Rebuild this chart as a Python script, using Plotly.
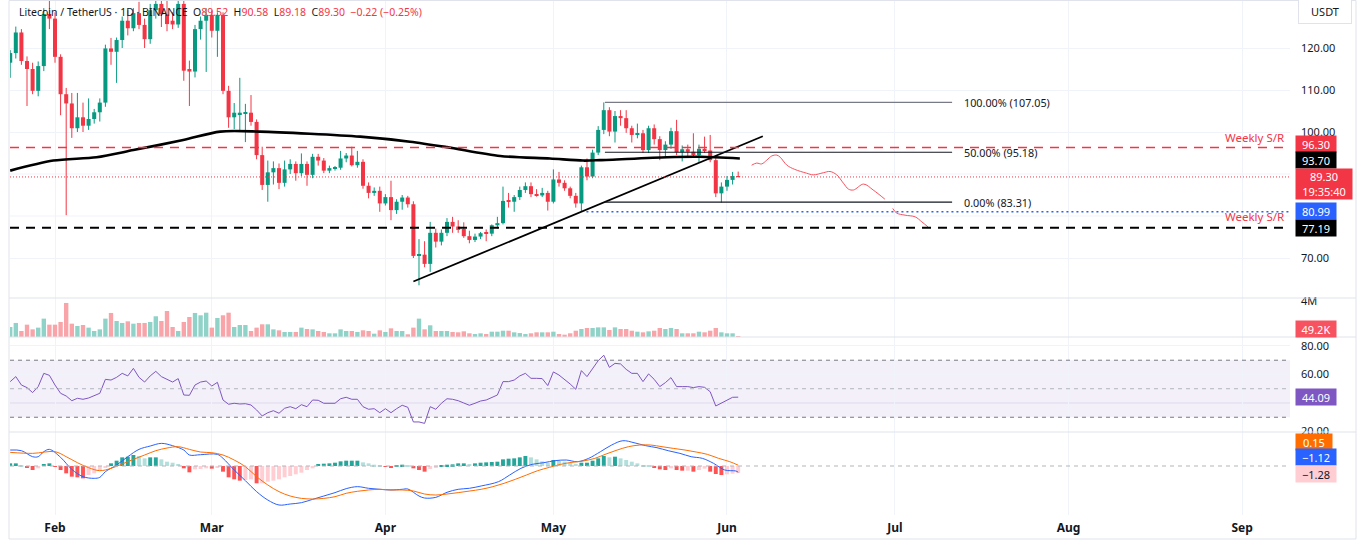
import pandas as pd
import plotly.graph_objects as go
from plotly.subplots import make_subplots

FONT = "Noto Sans"
TXT = "#131722"
UP = "#089981"
DOWN = "#f23645"

start_date = "2025-01-24"

opens = [
    116.5, 118.8, 123.7, 116.9, 115.0, 109.8, 115.7, 128.1, 127.0, 117.9,
    109.0, 106.8, 100.9, 103.5, 101.5, 103.1, 104.7, 107.0, 119.9, 119.1,
    121.9, 126.5, 124.7, 128.3, 125.5, 122.1, 129.0, 130.5, 128.0, 126.5,
    125.6, 130.5, 115.0, 114.4, 124.5, 126.5, 127.9, 124.1, 127.9, 109.8,
    103.5, 104.2, 104.4, 104.6, 102.4, 94.5, 87.4, 90.4, 91.4, 87.9,
    91.1, 92.4, 90.2, 92.4, 89.8, 94.1, 93.2, 90.8, 91.4, 91.5,
    93.7, 94.4, 92.1, 92.9, 87.2, 85.5, 86.0, 83.0, 84.5, 81.4,
    83.4, 84.4, 82.8, 70.5, 70.8, 68.6, 76.0, 73.9, 76.0, 78.6,
    77.5, 76.9, 75.2, 74.3, 75.1, 75.9, 75.8, 77.8, 78.3, 83.6,
    83.4, 84.5, 86.2, 87.1, 85.2, 84.9, 85.5, 83.4, 88.7, 87.9,
    86.6, 84.8, 83.0, 91.6, 89.4, 95.1, 100.5, 105.2, 100.1, 103.8,
    103.3, 100.9, 99.3, 99.7, 95.7, 100.9, 98.3, 95.7, 97.0, 100.2,
    95.2, 95.9, 95.3, 94.5, 96.0, 95.6, 93.3, 85.4, 87.0, 88.6, 89.52]
highs = [
    119.5, 125.1, 124.5, 118.0, 116.5, 116.8, 129.5, 131.4, 128.5, 118.5,
    110.5, 109.3, 109.3, 107.0, 108.0, 105.5, 108.0, 120.8, 122.4, 122.5,
    127.5, 129.0, 129.5, 131.0, 127.0, 130.5, 131.4, 131.4, 131.4, 128.5,
    131.4, 131.2, 117.0, 125.5, 127.5, 129.5, 129.0, 128.5, 128.5, 111.0,
    106.9, 112.9, 106.7, 108.8, 103.0, 96.5, 93.2, 93.0, 92.5, 93.2,
    93.5, 93.0, 94.9, 93.0, 94.8, 94.8, 93.8, 92.0, 91.9, 95.5,
    95.0, 96.5, 95.5, 93.5, 88.0, 86.8, 87.0, 85.2, 88.4, 84.0,
    85.0, 84.8, 83.5, 74.5, 74.0, 78.6, 77.0, 76.8, 79.5, 79.8,
    79.0, 78.5, 76.5, 75.8, 76.2, 76.8, 78.0, 79.8, 87.0, 85.5,
    85.0, 87.0, 88.0, 88.0, 86.4, 86.7, 86.0, 91.1, 90.5, 88.5,
    87.0, 85.5, 92.0, 93.7, 95.8, 101.4, 107.05, 105.9, 105.0, 105.2,
    105.2, 101.5, 102.0, 100.5, 101.5, 101.8, 99.0, 97.8, 101.0, 102.9,
    96.8, 97.0, 99.7, 97.0, 98.9, 99.3, 93.8, 88.0, 89.5, 90.5, 90.58]
lows = [
    112.9, 117.5, 116.0, 106.2, 109.0, 108.5, 114.5, 124.5, 116.5, 104.0,
    80.2, 98.6, 100.0, 100.0, 100.5, 102.0, 102.5, 106.0, 116.0, 111.7,
    120.0, 123.0, 124.0, 124.5, 120.0, 121.0, 127.0, 125.0, 124.0, 124.5,
    124.8, 112.2, 106.2, 113.0, 122.0, 114.3, 122.5, 117.9, 109.0, 101.0,
    100.7, 100.0, 97.6, 101.5, 93.5, 86.2, 83.4, 87.5, 86.4, 87.0,
    90.0, 88.4, 89.5, 87.2, 89.0, 92.0, 90.2, 90.2, 90.8, 91.0,
    92.8, 91.8, 91.5, 86.5, 84.2, 84.8, 81.0, 82.5, 79.0, 80.5,
    81.5, 82.0, 70.0, 63.5, 67.8, 66.7, 72.5, 73.0, 75.2, 76.0,
    76.0, 74.8, 73.5, 73.8, 74.5, 74.0, 75.2, 77.0, 78.0, 82.0,
    81.0, 83.8, 85.5, 84.5, 84.6, 84.5, 81.3, 83.0, 87.0, 86.0,
    84.2, 82.0, 81.0, 88.5, 89.0, 94.5, 99.5, 99.0, 97.5, 101.5,
    99.8, 97.5, 98.5, 95.0, 95.0, 97.0, 93.3, 94.0, 96.0, 94.5,
    93.0, 94.2, 94.0, 92.8, 95.0, 92.8, 84.5, 83.2, 86.0, 87.5, 89.18]
closes = [
    118.8, 123.7, 116.9, 115.0, 109.8, 115.7, 128.1, 127.0, 117.9, 109.0,
    106.8, 100.9, 103.5, 101.5, 103.1, 104.7, 107.0, 119.9, 119.1, 121.9,
    126.5, 124.7, 128.3, 125.5, 122.1, 129.0, 130.5, 128.0, 125.7, 125.6,
    130.5, 114.6, 114.4, 124.5, 126.5, 127.9, 124.1, 127.9, 109.8, 103.5,
    104.6, 104.6, 104.6, 102.4, 94.5, 87.4, 90.4, 91.4, 87.9, 91.1,
    92.4, 90.2, 92.4, 89.8, 94.1, 93.2, 90.8, 91.4, 91.5, 93.7,
    94.4, 92.1, 92.9, 87.2, 85.5, 86.0, 83.0, 84.5, 81.4, 83.4,
    84.4, 82.8, 70.5, 70.8, 68.6, 76.0, 73.9, 76.0, 78.6, 77.5,
    76.7, 75.2, 74.3, 75.1, 75.9, 75.8, 77.8, 78.3, 83.6, 83.4,
    84.5, 86.2, 87.1, 85.2, 84.9, 85.5, 83.4, 88.7, 87.9, 86.6,
    84.8, 83.0, 91.6, 89.4, 95.1, 100.5, 105.2, 100.1, 103.8, 103.3,
    100.9, 99.3, 99.7, 95.7, 100.9, 98.3, 95.7, 97.0, 100.2, 95.2,
    95.9, 95.3, 94.5, 96.0, 95.6, 93.3, 85.4, 87.0, 88.6, 89.52, 89.30]

# volume in millions
volumes_m = [
    1.11, 1.56, 0.67, 1.37, 0.85, 1.04, 2.04, 1.37, 1.37, 1.67,
    3.78, 1.48, 1.22, 1.33, 1.04, 0.67, 0.85, 2.04, 2.67, 1.78,
    1.56, 1.74, 1.48, 1.56, 1.56, 1.67, 2.30, 1.78, 2.89, 1.11,
    0.67, 1.67, 2.22, 2.67, 2.41, 2.70, 1.04, 2.11, 2.41, 2.70,
    1.11, 1.33, 1.33, 0.67, 1.04, 1.41, 1.41, 0.85, 0.74, 0.56,
    0.56, 0.56, 1.04, 0.89, 0.85, 0.67, 0.56, 0.41, 0.41, 0.85,
    0.67, 0.67, 0.56, 0.74, 0.67, 0.37, 0.74, 0.56, 0.96, 0.67,
    0.67, 0.30, 1.04, 2.04, 0.85, 1.30, 0.67, 0.67, 0.67, 0.56,
    0.52, 0.63, 0.41, 0.33, 0.41, 0.33, 0.59, 0.59, 0.70, 0.70,
    0.52, 0.44, 0.33, 0.41, 0.52, 0.52, 0.52, 0.59, 0.33, 0.26,
    0.41, 0.70, 0.89, 1.00, 1.00, 1.07, 1.07, 0.78, 1.07, 0.89,
    0.89, 0.70, 0.59, 0.52, 0.63, 0.70, 1.00, 0.89, 1.00, 0.89,
    0.41, 0.41, 0.41, 0.59, 0.52, 0.70, 1.00, 0.52, 0.41, 0.41, 0.05]

rsi_vals = [
    54.97, 58.5, 52.6, 50.8, 47.3, 51.5, 60.8, 59.4, 52.6, 46.8,
    44.9, 41.6, 43.3, 42.6, 43.5, 44.9, 46.8, 56.6, 56.1, 58.0,
    60.8, 59.0, 64.3, 58.0, 54.7, 59.0, 62.2, 58.5, 56.6, 54.7,
    57.1, 45.6, 45.4, 52.6, 54.7, 55.4, 51.9, 54.5, 42.1, 39.1,
    39.8, 39.3, 39.5, 38.6, 35.1, 30.9, 33.2, 34.6, 32.8, 36.3,
    37.4, 36.0, 38.8, 37.4, 42.1, 41.9, 39.8, 39.8, 39.8, 43.0,
    44.0, 42.6, 42.6, 37.4, 35.6, 36.0, 33.2, 36.0, 33.2, 36.0,
    38.4, 37.0, 26.7, 26.7, 25.7, 37.4, 35.6, 39.8, 43.0, 42.6,
    41.6, 40.0, 38.4, 39.8, 41.4, 42.1, 44.0, 45.6, 55.0, 55.0,
    56.1, 59.0, 60.8, 57.3, 57.3, 57.1, 52.2, 61.8, 59.6, 56.6,
    53.3, 49.6, 62.7, 58.5, 64.3, 69.7, 73.5, 65.0, 67.8, 67.4,
    63.6, 60.8, 60.8, 55.0, 60.4, 56.6, 51.5, 54.3, 57.8, 51.5,
    51.5, 51.5, 50.8, 51.5, 51.0, 47.9, 37.9, 39.8, 42.1, 44.0, 44.09]

macd_hist = [
    0.48, 0.48, 0.12, -0.24, -0.72, -0.42, 0.36, 0.48, -0.06, -0.72,
    -1.32, -1.92, -2.04, -2.22, -1.62, -1.32, -0.72, -0.30, 0.48, 0.96,
    1.56, 1.68, 1.98, 1.80, 1.38, 1.56, 1.56, 1.20, 0.78, 0.60,
    0.36, -0.42, -1.14, -0.60, -0.54, -0.42, -0.48, -0.24, -1.02, -2.04,
    -2.40, -2.64, -2.52, -2.40, -3.12, -3.12, -2.82, -2.64, -2.40, -2.04,
    -1.80, -1.50, -1.20, -0.72, -0.42, 0.36, 0.42, 0.48, 0.60, 0.84,
    0.96, 0.96, 0.96, 0.66, 0.48, 0.24, 0.12, -0.06, -0.24, 0.02,
    0.24, 0.18, -0.42, -0.72, -1.02, -0.54, -0.24, 0.06, 0.24, 0.30,
    0.48, 0.48, 0.36, 0.48, 0.60, 0.66, 0.72, 0.78, 1.20, 1.32,
    1.38, 1.56, 1.80, 1.56, 1.20, 0.84, 0.60, 1.08, 0.96, 0.78,
    0.60, 0.36, 0.60, 0.60, 0.96, 1.38, 1.80, 1.56, 1.68, 1.38,
    1.08, 0.78, 0.48, 0.18, 0.02, -0.24, -0.60, -0.72, -0.42, -0.72,
    -0.84, -0.84, -1.02, -0.72, -0.48, -1.02, -1.44, -1.62, -1.50, -1.38, -1.28]

macd_days = [0, 2, 4, 5, 6, 7, 9, 11, 13, 15, 16, 17, 19, 21, 23, 25, 27, 29, 31, 32,
             34, 37, 38, 40, 42, 44, 46, 48, 50, 52, 54, 56, 58, 60, 62, 64, 66, 68, 70, 71,
             73, 74, 76, 78, 80, 82, 84.1, 87.2, 89.2, 91.2, 93.2, 95.3, 97.3, 99.3, 101.3,
             103.3, 105.4, 107.4, 109.4, 111.4, 113.5, 115.5, 117.5, 119.6, 121.6, 123.6,
             125.6, 127.6, 129.6, 130]
macd_vals = [2.88, 2.76, 1.68, 1.68, 2.58, 3.0, 1.56, -0.6, -1.92, -2.22, -2.04, -1.02, 0.18,
             1.68, 3.0, 3.6, 4.08, 3.66, 2.88, 1.98, 2.04, 2.10, 1.38, -0.72, -2.64, -4.62,
             -6.13, -7.03, -6.85, -6.61, -6.01, -5.41, -4.80, -4.08, -3.72, -4.02, -4.20,
             -4.32, -4.20, -4.14, -5.41, -5.77, -5.65, -4.74, -4.20, -4.02, -3.60, -2.82,
             -1.62, -0.42, 0.30, 0.60, 0.96, 1.08, 0.78, 1.38, 2.58, 3.78, 4.56, 4.20, 3.66,
             3.30, 2.76, 2.28, 1.68, 1.38, 0.48, -0.72, -0.90, -1.12]
signal_days = [0, 4, 8, 10, 12, 14, 16, 18, 20, 22, 24, 26, 28, 30, 32, 34, 36, 38, 40, 42,
               44, 46, 48, 50, 52, 54, 56, 58, 60, 62, 64, 66, 68, 70, 72, 74, 76, 78, 80, 82.1,
               84.1, 86.2, 88.2, 90.2, 92.2, 94.2, 96.3, 98.3, 100.3, 102.3, 104.4, 106.4,
               108.4, 110.4, 112.4, 114.4, 116.4, 118.4, 120.5, 122.5, 124.5, 126.5, 128.5, 130]
signal_vals = [2.46, 2.28, 2.58, 1.68, 0.60, -0.30, -0.84, -0.42, 0.36, 1.20, 1.98, 2.76,
               3.24, 3.48, 3.0, 2.52, 2.40, 1.98, 1.08, -0.12, -1.92, -3.42, -4.62, -5.41,
               -5.83, -5.95, -5.83, -5.53, -4.92, -4.56, -4.32, -4.20, -4.32, -4.32, -4.50,
               -5.05, -5.23, -5.05, -4.80, -4.50, -4.20, -3.72, -3.12, -2.40, -1.62, -0.84,
               -0.24, 0.30, 0.66, 0.90, 1.38, 2.16, 2.88, 3.48, 3.78, 3.78, 3.48, 3.18, 2.88,
               2.52, 2.10, 1.38, 0.78, 0.15]

ma_days = [0, 7.7, 15.4, 22, 30.9, 37.5, 44.6, 53.5, 62.5, 71.4, 78.0, 87.5, 96.4, 102.3,
           105.3, 117.3, 123.2, 130.3]
ma_vals = [90.8, 93.2, 94.0, 95.7, 98.1, 100.1, 100.1, 99.6, 98.9, 97.7, 96.4, 94.3, 93.7,
           93.2, 93.3, 94.0, 94.1, 93.7]

trend_days = [72.0, 134.4]
trend_vals = [64.4, 99.0]

fib_levels = [107.05, 95.18, 83.31]
fib_names = ["100.00%", "50.00%", "0.00%"]
fib_days = [106.2, 168.2]
fib_label_day = 169.9

weekly_sr = [96.30, 77.19]
swing_low = 80.99
swing_low_day = 102.9
ma200_now = 93.70

proj1_days = [132.4, 133.3, 134.2, 135.1, 136.0, 136.9, 137.5, 138.7, 140.1, 142.2, 143.4,
              145.2, 146.4, 147.6, 148.8, 149.7, 150.6, 152.4, 154.1, 156.2]
proj1_vals = [92.1, 92.6, 92.4, 93.3, 94.3, 94.5, 94.0, 92.1, 91.1, 90.2, 89.8, 90.3, 90.6,
              89.8, 87.8, 86.4, 86.2, 87.6, 86.2, 84.0]
proj2_days = [157.6, 158.3, 159.8, 161.6, 162.8, 163.9]
proj2_vals = [81.8, 80.7, 80.2, 79.8, 78.6, 77.4]

x_range_days = [-0.036, 228.54]
rsi_levels = [70, 50, 30]
price_ticks = [70, 100, 110, 120]
price_grid_extra = [80, 90]
rsi_ticks = [20, 60, 80]
rsi_grid_extra = [40]

# ---------------------------------------------------------------
t0 = pd.Timestamp(start_date)


def d2t(days):
    return [(t0 + pd.Timedelta(days=float(d))).strftime("%Y-%m-%d %H:%M:%S") for d in days]


n = len(closes)
dates = d2t(range(n))
DAY_MS = 86400000
PLOT_W, PLOT_H, ML = 1280, 515, 10


def px_x(p):
    return (p - ML) / PLOT_W


def px_y(p):
    return (PLOT_H - p) / PLOT_H


fig = make_subplots(rows=4, cols=1, shared_xaxes=True, vertical_spacing=0)

is_up = [closes[i] >= opens[i] for i in range(n)]

# wicks
for up in (True, False):
    xs, ys = [], []
    for i in range(n):
        if is_up[i] == up:
            xs += [dates[i], dates[i], None]
            ys += [lows[i], highs[i], None]
    fig.add_trace(go.Scatter(x=xs, y=ys, mode="lines", line=dict(color=UP if up else DOWN, width=1),
                             hoverinfo="skip"), row=1, col=1)

# bodies
fig.add_trace(go.Bar(
    x=dates,
    y=[max(abs(closes[i] - opens[i]), 0.18) for i in range(n)],
    base=[min(opens[i], closes[i]) for i in range(n)],
    marker=dict(color=[UP if u else DOWN for u in is_up], line=dict(width=0)),
    width=0.72 * DAY_MS), row=1, col=1)

# 200 MA
fig.add_trace(go.Scatter(x=d2t(ma_days), y=ma_vals, mode="lines",
                         line=dict(color="#000000", width=2.6, shape="spline", smoothing=0.8)), row=1, col=1)
# trendline
fig.add_trace(go.Scatter(x=d2t(trend_days), y=trend_vals, mode="lines",
                         line=dict(color="#000000", width=1.8)), row=1, col=1)
# fib lines
for lvl, col, w in zip(fib_levels, ["#787b86", "#131722", "#131722"], [1.4, 1.1, 1.1]):
    fig.add_trace(go.Scatter(x=d2t(fib_days), y=[lvl, lvl], mode="lines",
                             line=dict(color=col, width=w)), row=1, col=1)
# projected path
for pdays, pvals in ((proj1_days, proj1_vals), (proj2_days, proj2_vals)):
    fig.add_trace(go.Scatter(x=d2t(pdays), y=pvals, mode="lines",
                             line=dict(color="#f7525f", width=1, shape="spline")), row=1, col=1)

# volume
fig.add_trace(go.Bar(x=dates, y=volumes_m,
                     marker=dict(color=["#8fd3c8" if u else "#f8a4a8" for u in is_up], line=dict(width=0)),
                     width=0.78 * DAY_MS), row=2, col=1)

# RSI
fig.add_trace(go.Scatter(x=dates, y=rsi_vals, mode="lines", line=dict(color="#7e57c2", width=1)), row=3, col=1)

# MACD histogram
hcols = []
for i, h in enumerate(macd_hist):
    prev = macd_hist[i - 1] if i > 0 else h
    if h >= 0:
        hcols.append("#26a69a" if h >= prev else "#b2dfdb")
    else:
        hcols.append("#ff5252" if h < prev else "#ffcdd2")
fig.add_trace(go.Bar(x=dates, y=macd_hist, marker=dict(color=hcols, line=dict(width=0)),
                     width=0.7 * DAY_MS), row=4, col=1)
fig.add_trace(go.Scatter(x=d2t(macd_days), y=macd_vals, mode="lines",
                         line=dict(color="#2962ff", width=1, shape="spline")), row=4, col=1)
fig.add_trace(go.Scatter(x=d2t(signal_days), y=signal_vals, mode="lines",
                         line=dict(color="#ff6d00", width=1, shape="spline")), row=4, col=1)

xr = d2t(x_range_days)

fig.update_layout(
    width=1365, height=550, margin=dict(l=ML, r=75, t=0, b=35, pad=0, autoexpand=False),
    paper_bgcolor="white", plot_bgcolor="white", showlegend=False,
    barmode="overlay", hovermode=False,
    font=dict(family=FONT, size=11, color=TXT),
)
fig.update_xaxes(type="date", range=xr, showgrid=True, gridcolor="#f0f3fa", gridwidth=1,
                 dtick="M1", tick0="2025-02-01", tickformat="%b", ticks="", showline=False,
                 zeroline=False, fixedrange=True, automargin=False)
fig.update_xaxes(showticklabels=True, ticklabelstandoff=4,
                 tickfont=dict(size=12, color=TXT, family=FONT, weight="bold"), row=4, col=1)
fig.update_yaxes(side="right", showline=False, zeroline=False, ticks="", ticklabelstandoff=10,
                 tickfont=dict(size=11, color=TXT, family=FONT), gridcolor="#f0f3fa", fixedrange=True,
                 automargin=False)
fig.update_layout(
    yaxis=dict(domain=[px_y(298), 1.0], range=[60.48, 131.43], tickvals=price_ticks, tickformat=".2f"),
    yaxis2=dict(domain=[px_y(337), px_y(298)], range=[0, 4.33], tickvals=[4], ticktext=["4M"], showgrid=False),
    yaxis3=dict(domain=[px_y(432), px_y(337)], range=[19.65, 86.3], tickvals=rsi_ticks, tickformat=".2f"),
    yaxis4=dict(domain=[0, px_y(432)], range=[-8.83, 6.13], showticklabels=False, showgrid=False),
)

shapes = []
for g in price_grid_extra:
    shapes.append(dict(type="line", xref="paper", yref="y", x0=0, x1=1, y0=g, y1=g,
                       line=dict(color="#f0f3fa", width=1), layer="below"))
for g in rsi_grid_extra:
    shapes.append(dict(type="line", xref="paper", yref="y3", x0=0, x1=1, y0=g, y1=g,
                       line=dict(color="#e9e6f2", width=1), layer="below"))
# RSI band and levels
shapes.append(dict(type="rect", xref="paper", yref="y3", x0=0, x1=1, y0=rsi_levels[2], y1=rsi_levels[0],
                   fillcolor="rgba(126,87,194,0.09)", line=dict(width=0), layer="below"))
for lvl, col in zip(rsi_levels, ["#787b86", "#b2b5be", "#787b86"]):
    shapes.append(dict(type="line", xref="paper", yref="y3", x0=0, x1=1, y0=lvl, y1=lvl,
                       line=dict(color=col, width=1, dash="4px,4px")))
# MACD zero
shapes.append(dict(type="line", xref="paper", yref="y4", x0=0, x1=1, y0=0, y1=0,
                   line=dict(color="#b2b5be", width=1, dash="4px,4px")))
# weekly S/R
shapes.append(dict(type="line", xref="paper", yref="y", x0=0, x1=1, y0=weekly_sr[0], y1=weekly_sr[0],
                   line=dict(color=DOWN, width=1.6, dash="9px,7px")))
shapes.append(dict(type="line", xref="paper", yref="y", x0=0, x1=1, y0=weekly_sr[1], y1=weekly_sr[1],
                   line=dict(color="#000000", width=2, dash="9px,7px")))
# current price
shapes.append(dict(type="line", xref="paper", yref="y", x0=0, x1=1, y0=closes[-1], y1=closes[-1],
                   line=dict(color=DOWN, width=1, dash="1px,2px")))
# swing low dotted
shapes.append(dict(type="line", xref="x", yref="y", x0=d2t([swing_low_day])[0], x1=xr[1],
                   y0=swing_low, y1=swing_low, line=dict(color="#2962ff", width=1.5, dash="2px,3px")))
# panel separators / frame
for yp in (298, 337, 432):
    shapes.append(dict(type="line", xref="paper", yref="paper", x0=px_x(9), x1=px_x(1356),
                       y0=px_y(yp), y1=px_y(yp), line=dict(color="#e0e3eb", width=1)))
shapes.append(dict(type="rect", xref="paper", yref="paper", x0=px_x(9), x1=px_x(1356),
                   y0=px_y(539), y1=px_y(0.5), line=dict(color="#e0e3eb", width=1)))
fig.update_layout(shapes=shapes)

ann = []
red = "color:%s" % DOWN
chg = closes[-1] - opens[-1]
pct = chg / opens[-1] * 100
sp = "\u00a0"
title = ("Litecoin / TetherUS · 1D · BINANCE" + sp * 2 +
         "O<span style='%s'>%.2f</span>%sH<span style='%s'>%.2f</span>%sL<span style='%s'>%.2f</span>%s"
         "C<span style='%s'>%.2f</span>%s<span style='%s'>%s (%s%%)</span>") % (
    red, opens[-1], sp * 2, red, highs[-1], sp * 2, red, lows[-1], sp * 2,
    red, closes[-1], sp * 2, red, ("−%.2f" % abs(chg)), ("−%.2f" % abs(pct)))
ann.append(dict(x=px_x(17), y=px_y(12), xref="paper", yref="paper", xanchor="left", yanchor="middle",
                text=title, showarrow=False, font=dict(size=10.5, color=TXT, family=FONT)))
ann.append(dict(x=px_x(1325), y=px_y(12), xref="paper", yref="paper", xanchor="center", yanchor="middle",
                text="USDT", showarrow=False, font=dict(size=11, color=TXT, family=FONT),
                bgcolor="white", bordercolor="#e0e3eb", borderwidth=1, borderpad=4, width=44))
# Weekly S/R texts
ann.append(dict(x=px_x(1286), y=weekly_sr[0], xref="paper", yref="y", xanchor="right", yanchor="middle",
                yshift=10, text="Weekly S/R", showarrow=False, font=dict(size=11.5, color=DOWN, family=FONT)))
ann.append(dict(x=px_x(1286), y=weekly_sr[1], xref="paper", yref="y", xanchor="right", yanchor="middle",
                yshift=11, text="Weekly S/R", showarrow=False, font=dict(size=11.5, color=DOWN, family=FONT)))
# fib labels
for lvl, nm in zip(fib_levels, fib_names):
    ann.append(dict(x=d2t([fib_label_day])[0], y=lvl, xref="x", yref="y", xanchor="left", yanchor="middle",
                    text="%s (%.2f)" % (nm, lvl), showarrow=False, font=dict(size=10.8, color=TXT, family=FONT)))


def box(text, ypix, bg, fg="white", width=38, height=14):
    return dict(x=px_x(1295), y=px_y(ypix), xref="paper", yref="paper", xanchor="left", yanchor="middle",
                text=text, showarrow=False, font=dict(size=11, color=fg, family=FONT), bgcolor=bg,
                borderpad=1, width=width, height=height, align="center")


ann.append(box("%.2f" % weekly_sr[0], 144, DOWN))
ann.append(box("%.2f" % ma200_now, 159.5, "#000000"))
ann.append(box("%.2f<br>19:35:40" % closes[-1], 183.5, DOWN, width=54, height=28))
ann.append(box("%.2f" % swing_low, 211.5, "#2962ff"))
ann.append(box("%.2f" % weekly_sr[1], 227.5, "#000000"))
ann.append(box("49.2K", 328.5, "#f7525f"))
ann.append(box("%.2f" % rsi_vals[-1], 397, "#7e57c2"))
ann.append(box("%.2f" % signal_vals[-1], 441.5, "#ff6d00", width=34))
ann.append(box("−%.2f" % abs(macd_vals[-1]), 457, "#2962ff", width=38))
ann.append(box("−%.2f" % abs(macd_hist[-1]), 473.5, "#ffcdd2", fg=TXT, width=38))
fig.update_layout(annotations=ann)

fig.write_html("out.html")
